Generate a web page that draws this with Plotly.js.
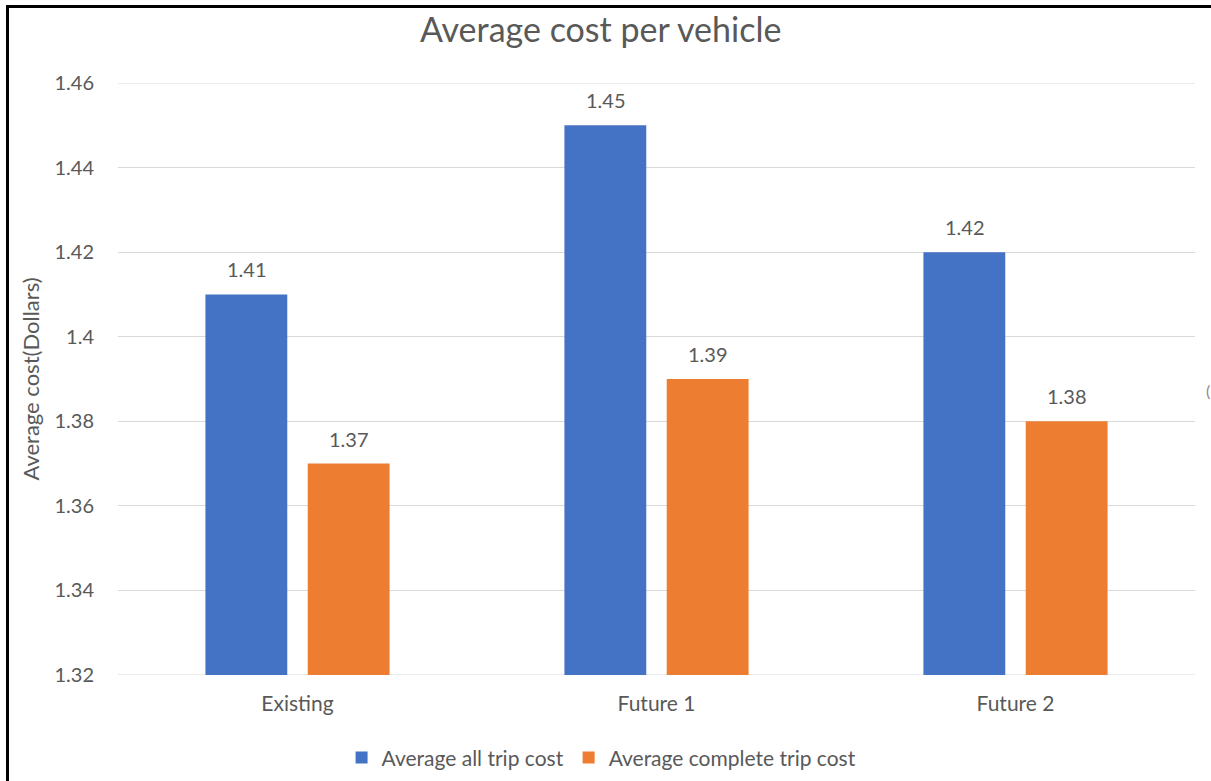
<!DOCTYPE html>
<html>
<head>
<meta charset="utf-8">
<script src="https://cdn.plot.ly/plotly-3.0.1.min.js"></script>
<style>
  html, body { margin: 0; padding: 0; background: #fff; overflow: hidden; }
  #chart { position: absolute; left: 0; top: 0; width: 1211px; height: 781px; }
  #frame {
    position: absolute; left: 6px; top: 5px; width: 1300px; height: 900px;
    border-top: 3px solid #000; border-left: 3px solid #000;
    pointer-events: none;
  }
</style>
</head>
<body>
<div id="chart"></div>
<div id="frame"></div>
<script>
// Scenarios along the x axis
const scenarios = ['Existing', 'Future 1', 'Future 2'];

// Average cost per vehicle (dollars)
const allTripCost = [1.41, 1.45, 1.42];
const completeTripCost = [1.37, 1.39, 1.38];

const seriesNames = ['Average all trip cost', 'Average complete trip cost'];
const seriesColors = ['#4472C4', '#ED7D31'];

// Y axis ticks
const yMin = 1.32, yMax = 1.46;
const yTickVals = [1.32, 1.34, 1.36, 1.38, 1.40, 1.42, 1.44, 1.46];
const yTickText = ['1.32', '1.34', '1.36', '1.38', '1.4', '1.42', '1.44', '1.46'];

const textColor = '#595959';
const gridColor = '#d9d9d9';
const fontFamily = 'Lato, "Open Sans", sans-serif';

const series = [allTripCost, completeTripCost];

const traces = series.map((vals, i) => ({
  type: 'bar',
  name: seriesNames[i],
  x: scenarios,
  y: vals,
  marker: { color: seriesColors[i] },
  hoverinfo: 'x+y+name'
}));

// Value labels above each bar
const annotations = [];
series.forEach((vals, i) => {
  vals.forEach((v, j) => {
    annotations.push({
      x: scenarios[j], y: v, xref: 'x', yref: 'y',
      text: v.toFixed(2),
      showarrow: false,
      xshift: i === 0 ? -51 : 51,
      yanchor: 'bottom',
      yshift: 11,
      font: { family: fontFamily, size: 20, color: textColor }
    });
  });
});

// stray bracket at the right-hand edge
annotations.push({
  xref: 'paper', yref: 'paper', x: 1.0149, y: 0.48,
  xanchor: 'right', yanchor: 'middle', showarrow: false,
  borderpad: 0,
  text: '(', font: { family: fontFamily, size: 16, color: '#8c8c8c' }
});

// Gridlines on the two ends of the value range (Plotly skips those)
const edgeLines = [yMin, yMax].map(v => ({
  type: 'line', xref: 'paper', yref: 'y',
  x0: 0, x1: 1, y0: v, y1: v,
  line: { color: gridColor, width: 1 },
  layer: 'below'
}));

const layout = {
  width: 1211,
  height: 781,
  paper_bgcolor: '#ffffff',
  plot_bgcolor: '#ffffff',
  margin: { l: 118, r: 16, t: 83, b: 106 },
  font: { family: fontFamily, color: textColor, size: 20 },
  title: {
    text: 'Average cost per vehicle',
    font: { family: fontFamily, size: 34, color: textColor },
    xref: 'container', yref: 'container',
    x: 0.496, y: 0.962, xanchor: 'center', yanchor: 'middle'
  },
  barmode: 'group',
  bargap: 0.43,
  bargroupgap: 0.2,
  xaxis: {
    type: 'category',
    showgrid: false,
    showline: false,
    zeroline: false,
    automargin: false,
    ticks: 'outside',
    ticklen: 10,
    tickcolor: 'rgba(0,0,0,0)',
    tickfont: { family: fontFamily, size: 21, color: textColor }
  },
  yaxis: {
    range: [yMin, yMax],
    tickmode: 'array',
    tickvals: yTickVals,
    ticktext: yTickText,
    showgrid: true,
    gridcolor: gridColor,
    gridwidth: 1,
    zeroline: false,
    showline: false,
    automargin: false,
    ticks: 'outside',
    ticklen: 19,
    tickcolor: 'rgba(0,0,0,0)',
    tickfont: { family: fontFamily, size: 20, color: textColor },
    title: {
      text: 'Average cost(Dollars)',
      font: { family: fontFamily, size: 22, color: textColor },
      standoff: 8
    }
  },
  showlegend: true,
  legend: {
    orientation: 'h',
    x: 0.449, xanchor: 'center',
    yref: 'container',
    y: 0.0295, yanchor: 'middle',
    font: { family: fontFamily, size: 21, color: textColor },
    itemwidth: 30,
    traceorder: 'normal'
  },
  shapes: edgeLines,
  annotations: annotations
};

Plotly.newPlot('chart', traces, layout, { displayModeBar: false, staticPlot: true });
</script>
</body>
</html>
